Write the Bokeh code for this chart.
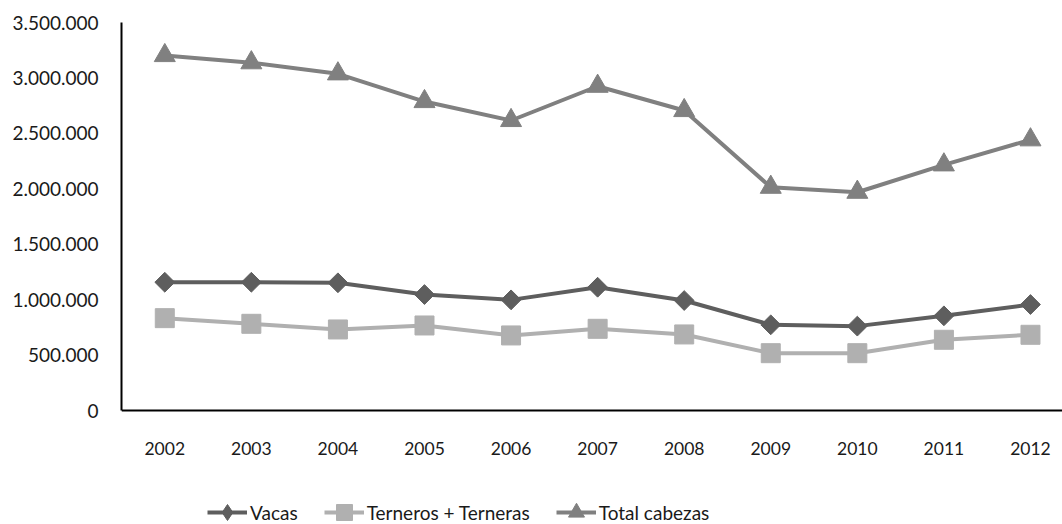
import math
from bokeh.plotting import figure
from bokeh.models import Range1d, FixedTicker, Legend, LegendItem
from bokeh.embed import file_html
from bokeh.resources import INLINE

years = [2002, 2003, 2004, 2005, 2006, 2007, 2008, 2009, 2010, 2011, 2012]
vacas = [1157000, 1157000, 1152000, 1046000, 998000, 1112000, 992000, 773000, 761000, 854000, 956000]
terneros = [833000, 782000, 731000, 767000, 677000, 737000, 686000, 517000, 517000, 638000, 683000]
total = [3202000, 3137000, 3037000, 2787000, 2616000, 2925000, 2706000, 2014000, 1969000, 2216000, 2442000]
series_names = ["Vacas", "Terneros + Terneras", "Total cabezas"]
y_ticks = [0, 500000, 1000000, 1500000, 2000000, 2500000, 3000000, 3500000]
y_tick_labels = ["0", "500.000", "1.000.000", "1.500.000", "2.000.000", "2.500.000", "3.000.000", "3.500.000"]
x_tick_labels = [str(y) for y in years]

FONT = "Lato"
TXT = "#1a1a1a"

# frame spans full height below the plot area so the legend can sit inside it
Y_MAX = 3500000
Y_MIN = -Y_MAX * 114 / 388

p = figure(width=1062, height=524, output_backend="svg", toolbar_location=None,
           x_range=Range1d(2001.5, 2012.37), y_range=Range1d(Y_MIN, Y_MAX),
           min_border_left=121, min_border_top=22, min_border_right=0, min_border_bottom=0)
p.outline_line_color = None
p.xgrid.visible = False
p.ygrid.visible = False

for ax in (p.xaxis[0], p.yaxis[0]):
    ax.axis_line_color = "black"
    ax.axis_line_width = 2
    ax.major_tick_line_color = None
    ax.minor_tick_line_color = None
    ax.major_tick_out = 0
    ax.major_tick_in = 0
    ax.major_label_text_font = FONT
    ax.major_label_text_color = TXT

p.yaxis.major_label_text_font_size = "19px"
p.xaxis.major_label_text_font_size = "17.5px"
p.yaxis.ticker = FixedTicker(ticks=y_ticks)
p.yaxis.major_label_overrides = {t: l for t, l in zip(y_ticks, y_tick_labels)}
p.yaxis.major_label_standoff = 23
p.yaxis.bounds = (0, Y_MAX)
p.xaxis.ticker = FixedTicker(ticks=years)
p.xaxis.major_label_overrides = {y: l for y, l in zip(years, x_tick_labels)}
p.xaxis.major_label_standoff = 31
p.xaxis.fixed_location = 0

c_vacas = "#5e5e5e"
c_tern = "#b0b0b0"
c_total = "#808080"

l1 = p.line(years, vacas, line_color=c_vacas, line_width=4)
m1 = p.scatter(years, vacas, marker="square", angle=math.pi / 4, size=14,
               fill_color=c_vacas, line_color=c_vacas)
# diamond glyph used for the legend swatch (zero size in the plot itself)
m1_leg = p.scatter(years, vacas, marker="diamond", size=0,
                   fill_color=c_vacas, line_color=c_vacas)
l2 = p.line(years, terneros, line_color=c_tern, line_width=4)
m2 = p.scatter(years, terneros, marker="square", size=19,
               fill_color=c_tern, line_color=c_tern)
l3 = p.line(years, total, line_color=c_total, line_width=4)
m3 = p.scatter(years, total, marker="triangle", size=21,
               fill_color=c_total, line_color=c_total)

legend = Legend(items=[
    LegendItem(label=series_names[0], renderers=[l1, m1_leg]),
    LegendItem(label=series_names[1], renderers=[l2, m2]),
    LegendItem(label=series_names[2], renderers=[l3, m3]),
], orientation="horizontal", location=(86, -8))
legend.border_line_color = None
legend.background_fill_alpha = 0
legend.padding = 0
legend.margin = 0
legend.spacing = 26
legend.glyph_width = 40
legend.glyph_height = 40
legend.label_height = 20
legend.label_standoff = 3
legend.label_text_font = FONT
legend.label_text_font_size = "19px"
legend.label_text_color = TXT
p.add_layout(legend, "center")

open("out.html", "w").write(file_html(p, INLINE))
